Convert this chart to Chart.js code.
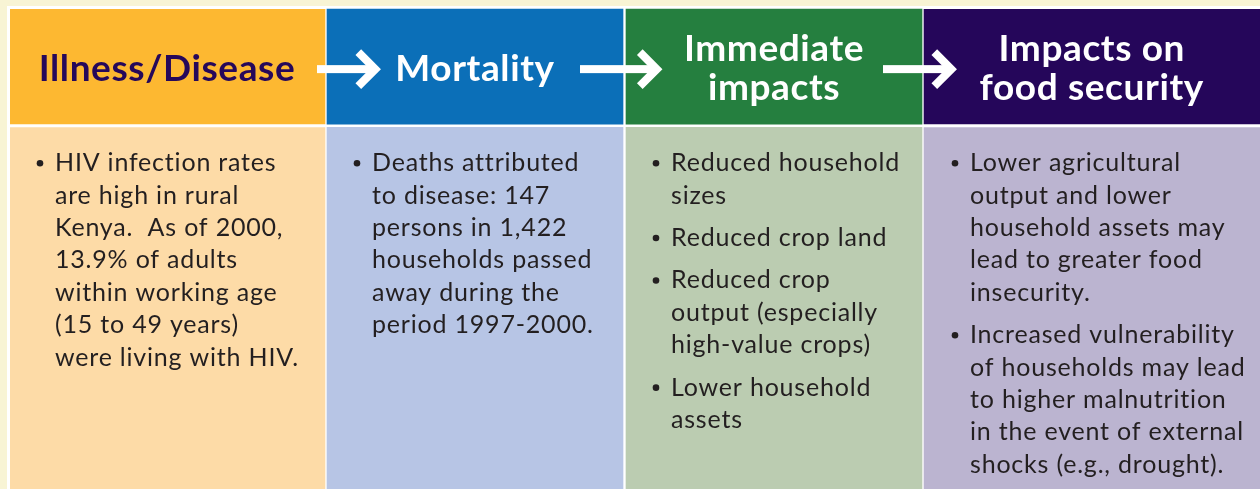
<!DOCTYPE html>
<html><head><meta charset="utf-8">
<script src="https://cdn.jsdelivr.net/npm/chart.js@4.4.1/dist/chart.umd.min.js"></script>
<style>html,body{margin:0;padding:0;background:#F8F4D4;overflow:hidden}canvas{display:block}</style>
</head><body><canvas id="c" width="1260" height="489"></canvas>
<script>
// ---- content ----
const stages = ['Illness/Disease', 'Mortality', 'Immediate impacts', 'Impacts on food security'];
const headerLines = [['Illness/Disease'], ['Mortality'], ['Immediate', 'impacts'], ['Impacts on', 'food security']];
const bulletsIllness = [
  ['HIV infection rates', 'are high in rural', 'Kenya.  As of 2000,', '13.9% of adults', 'within working age', '(15 to 49 years)', 'were living with HIV.']
];
const bulletsMortality = [
  ['Deaths attributed', 'to disease: 147', 'persons in 1,422', 'households passed', 'away during the', 'period 1997-2000.']
];
const bulletsImmediate = [
  ['Reduced household', 'sizes'],
  ['Reduced crop land'],
  ['Reduced crop', 'output (especially', 'high-value crops)'],
  ['Lower household', 'assets']
];
const bulletsFood = [
  ['Lower agricultural', 'output and lower', 'household assets may', 'lead to greater food', 'insecurity.'],
  ['Increased vulnerability', 'of households may lead', 'to higher malnutrition', 'in the event of external', 'shocks (e.g., drought).']
];
const bodyBullets = [bulletsIllness, bulletsMortality, bulletsImmediate, bulletsFood];
// panel sections along the vertical axis (share of panel height, %)
const headerRange = [0, 24.56];
const bodyRange = [24.56, 102];

// ---- styles ----
const headerColors = ['#FDB831', '#0B6FB8', '#257F3F', '#25065A'];
const bodyColors = ['#FDDBA7', '#B7C5E5', '#BBCCB1', '#BBB4D0'];
const headerTextColors = ['#26085A', '#FFFFFF', '#FFFFFF', '#FFFFFF'];
const columnStretch = [335 / 299, 1, 1, 1.28];
const arrowOffsets = [[-8.5, 55.5], [-44.5, 38], [-40.5, 33.5]];
const FONT = 'Lato, "Open Sans", sans-serif';

function oneAt(i, v) { return stages.map((_, j) => j === i ? v : null); }

const datasets = [];
stages.forEach((s, i) => {
  const edge = (i === 0 || i === stages.length - 1);
  const common = {
    grouped: false, categoryPercentage: 1, barPercentage: columnStretch[i], borderColor: '#FFFFFF', borderWidth: 1.5,
    borderSkipped: false, clip: false, order: edge ? 2 : 1
  };
  datasets.push(Object.assign({ label: s + ' header', data: oneAt(i, headerRange), backgroundColor: headerColors[i] }, common));
  datasets.push(Object.assign({ label: s + ' body', data: oneAt(i, bodyRange), backgroundColor: bodyColors[i] }, common));
});

function columnBounds(chart) {
  const x = chart.scales.x;
  const step = x.getPixelForValue(1) - x.getPixelForValue(0);
  const b = i => x.getPixelForValue(i) - step / 2;
  const res = [];
  for (let i = 0; i < stages.length; i++) {
    const meta = chart.getDatasetMeta(i * 2);
    const el = meta.data[i];
    const L = i === 0 ? el.x - el.width / 2 : b(i);
    const R = i === stages.length - 1 ? chart.width : b(i + 1);
    res.push({ L, R, c: (L + R) / 2, boundary: b(i) });
  }
  return res;
}

const framePlugin = {
  id: 'frame',
  beforeDraw(chart) {
    const ctx = chart.ctx;
    ctx.save();
    ctx.fillStyle = '#F8F4D4';
    ctx.fillRect(0, 0, chart.width, chart.height);
    ctx.fillStyle = '#FFFFFF';
    ctx.fillRect(7, 6, chart.width - 7, chart.height - 6);
    ctx.restore();
  }
};

const textPlugin = {
  id: 'texts',
  afterDatasetsDraw(chart) {
    const ctx = chart.ctx;
    const cols = columnBounds(chart);
    const y = chart.scales.y;
    const hTop = y.getPixelForValue(headerRange[0]);
    const hBot = y.getPixelForValue(headerRange[1]);
    const hMid = (hTop + hBot) / 2;
    ctx.save();
    // arrows
    ctx.fillStyle = '#FFFFFF';
    ctx.strokeStyle = '#FFFFFF';
    for (let k = 1; k < stages.length; k++) {
      const bx = cols[k].boundary;
      const start = bx + arrowOffsets[k - 1][0];
      const tip = bx + arrowOffsets[k - 1][1];
      const cy = hMid + 2.5;
      ctx.fillRect(start, cy - 4, tip - 8 - start, 8);
      ctx.lineWidth = 8;
      ctx.lineJoin = 'miter';
      ctx.lineCap = 'butt';
      ctx.beginPath();
      ctx.moveTo(tip - 5.7 - 17, cy - 17);
      ctx.lineTo(tip - 5.7, cy);
      ctx.lineTo(tip - 5.7 - 17, cy + 17);
      ctx.stroke();
    }
    // header text
    ctx.textAlign = 'center';
    ctx.textBaseline = 'alphabetic';
    ctx.font = 'bold 37px ' + FONT;
    if ('letterSpacing' in ctx) ctx.letterSpacing = '0.6px';
    headerLines.forEach((lines, i) => {
      ctx.fillStyle = headerTextColors[i];
      const n = lines.length;
      lines.forEach((t, k) => {
        const by = hMid + (k - (n - 1) / 2) * 39 + 14;
        ctx.fillText(t, cols[i].c, by);
      });
    });
    // body text
    const bTop = y.getPixelForValue(bodyRange[0]);
    ctx.textAlign = 'left';
    ctx.font = '25px ' + FONT;
    if ('letterSpacing' in ctx) ctx.letterSpacing = '0.8px';
    bodyBullets.forEach((items, i) => {
      const left = cols[i].L + 1.5;
      let by = bTop + 45.5;
      ctx.fillStyle = '#231F20';
      items.forEach(lines => {
        ctx.beginPath();
        ctx.arc(left + 30, by - 8, 3.3, 0, Math.PI * 2);
        ctx.fill();
        lines.forEach(t => {
          ctx.fillText(t, left + 45, by);
          by += 32.4;
        });
        by += 10;
      });
    });
    ctx.restore();
  }
};

new Chart(document.getElementById('c'), {
  type: 'bar',
  data: { labels: stages, datasets },
  options: {
    responsive: false,
    animation: false,
    devicePixelRatio: 1,
    layout: { padding: { left: 26.5, right: 37.5, top: 7.5, bottom: 0 } },
    plugins: { legend: { display: false }, tooltip: { enabled: false } },
    scales: {
      x: { type: 'category', display: false, offset: true },
      y: { type: 'linear', display: false, reverse: true, min: 0, max: 100 }
    }
  },
  plugins: [framePlugin, textPlugin]
});
</script>
</body></html>
